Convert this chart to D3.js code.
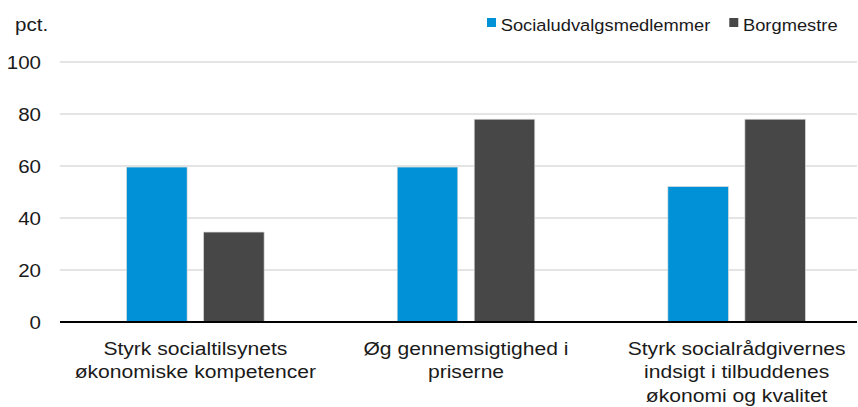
<!DOCTYPE html>
<html>
<head>
<meta charset="utf-8">
<script src="https://cdn.jsdelivr.net/npm/d3@7"></script>
<style>
  html, body { margin: 0; padding: 0; background: #fff; }
  svg { display: block; font-family: "Liberation Sans", Arial, sans-serif; }
</style>
</head>
<body>
<div id="chart"></div>
<script>
var width = 858;
var height = 407;

// data
var categories = [
  "Styrk socialtilsynets økonomiske kompetencer",
  "Øg gennemsigtighed i priserne",
  "Styrk socialrådgivernes indsigt i tilbuddenes økonomi og kvalitet"
];
var seriesNames = ["Socialudvalgsmedlemmer", "Borgmestre"];
var socialudvalg = [59.6, 59.6, 52.1];
var borgmestre = [34.6, 78.0, 78.0];
var yTicks = [0, 20, 40, 60, 80, 100];
var unitLabel = "pct.";

var colors = ["#0091d6", "#474747"];
var sx = 1.11; // text is a bit wide in the original

var rows = categories.map(function(c, i) {
  return { cat: c, values: [socialudvalg[i], borgmestre[i]] };
});

var plotLeft = 60, plotRight = 857, plotTop = 62, plotBottom = 322;

var svg = d3.select("#chart").append("svg")
  .attr("width", width)
  .attr("height", height);

var y = d3.scaleLinear().domain([0, 100]).range([plotBottom, plotTop]);

// the original plot is a little wider than the picture, so the bands run past the edge
var x0 = d3.scaleBand().domain(categories).range([plotLeft, 872])
  .paddingInner(0.4916).paddingOuter(0.2458);
var x1 = d3.scaleBand().domain(seriesNames).range([0, x0.bandwidth()])
  .paddingInner(0.213).paddingOuter(0);

// gridlines
svg.append("g").selectAll("line")
  .data(yTicks.filter(function(d) { return d > 0; }))
  .enter().append("line")
    .attr("x1", plotLeft).attr("x2", plotRight)
    .attr("y1", function(d) { return y(d); })
    .attr("y2", function(d) { return y(d); })
    .attr("stroke", "#c9c9c9")
    .attr("stroke-width", 1);

// tick labels
svg.append("g").selectAll("text")
  .data(yTicks)
  .enter().append("text")
    .attr("transform", function(d) { return "translate(41," + (y(d) + 6.5) + ") scale(" + sx + ",1)"; })
    .attr("text-anchor", "end")
    .attr("font-size", 18.5)
    .attr("fill", "#1a1a1a")
    .text(function(d) { return d; });

svg.append("text")
  .attr("transform", "translate(15,31) scale(" + sx + ",1)")
  .attr("font-size", 18.5)
  .attr("fill", "#1a1a1a")
  .text(unitLabel);

// bars
var groups = svg.append("g").selectAll("g")
  .data(rows)
  .enter().append("g")
    .attr("transform", function(d) { return "translate(" + x0(d.cat) + ",0)"; });

groups.selectAll("rect")
  .data(function(d) { return d.values.map(function(v, i) { return { name: seriesNames[i], value: v, i: i }; }); })
  .enter().append("rect")
    .attr("x", function(d) { return x1(d.name); })
    .attr("width", x1.bandwidth())
    .attr("y", function(d) { return y(d.value); })
    .attr("height", function(d) { return y(0) - y(d.value); })
    .attr("fill", function(d) { return colors[d.i]; })
    .attr("stroke", "#dcdcdc")
    .attr("stroke-width", 0.7);

// zero axis
svg.append("line")
  .attr("x1", plotLeft).attr("x2", plotRight)
  .attr("y1", y(0)).attr("y2", y(0))
  .attr("stroke", "#000")
  .attr("stroke-width", 2);

// category labels, wrapped
var maxLine = 256;
var labels = svg.append("g").selectAll("g")
  .data(categories)
  .enter().append("g")
    .attr("transform", function(d) { return "translate(" + (x0(d) + x0.bandwidth() / 2) + "," + (y(0) + 32.6) + ")"; });

labels.each(function(d) {
  var g = d3.select(this);
  var words = d.split(" ");
  var lines = [];
  var line = [];
  var probe = g.append("text").attr("font-size", 19);
  words.forEach(function(w) {
    line.push(w);
    probe.text(line.join(" "));
    if (probe.node().getComputedTextLength() * sx > maxLine && line.length > 1) {
      line.pop();
      lines.push(line.join(" "));
      line = [w];
    }
  });
  lines.push(line.join(" "));
  probe.remove();
  lines.forEach(function(l, i) {
    g.append("text")
      .attr("transform", "translate(0," + (i * 23.7) + ") scale(" + sx + ",1)")
      .attr("text-anchor", "middle")
      .attr("font-size", 19)
      .attr("fill", "#1a1a1a")
      .text(l);
  });
});

// legend
var legend = svg.append("g");
var lx = 487;
seriesNames.forEach(function(name, i) {
  legend.append("rect")
    .attr("x", lx).attr("y", 18)
    .attr("width", 9).attr("height", 9)
    .attr("fill", colors[i]);
  var t = legend.append("text")
    .attr("transform", "translate(" + (lx + 13.7) + ",30.7) scale(" + sx + ",1)")
    .attr("font-size", 16.5)
    .attr("fill", "#1a1a1a")
    .text(name);
  lx += 13.7 + t.node().getComputedTextLength() * sx + 19;
});
</script>
</body>
</html>
